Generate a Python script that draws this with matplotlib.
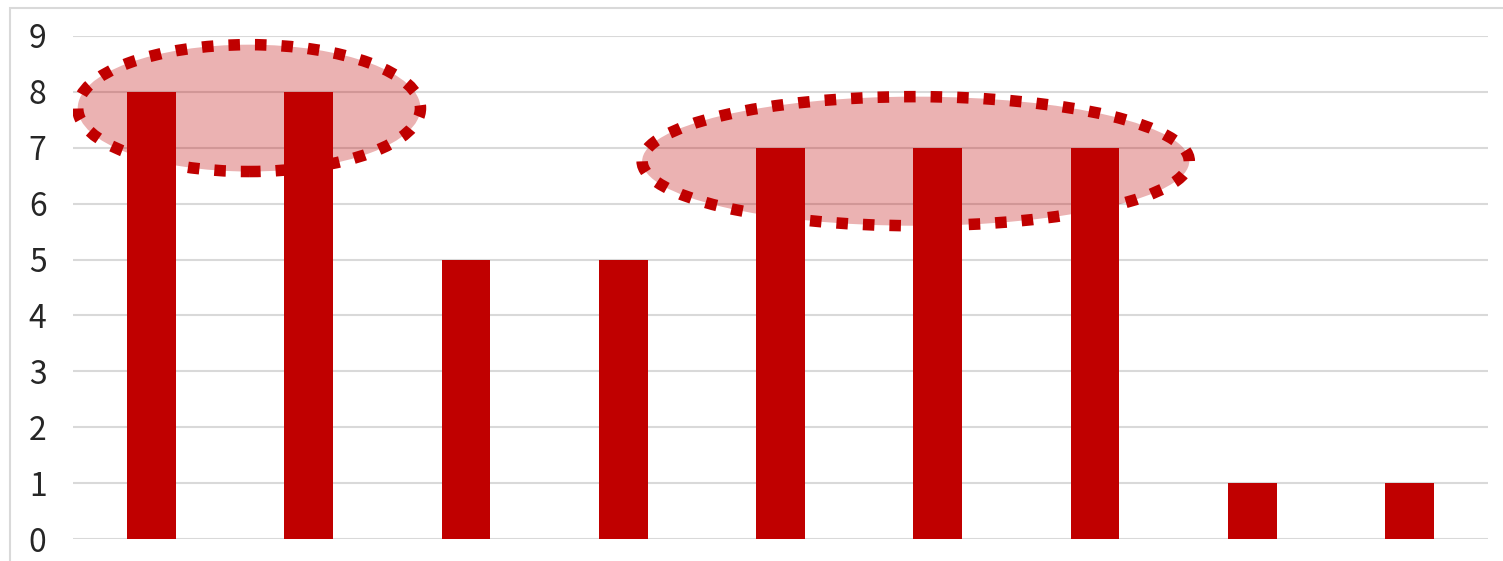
import matplotlib
matplotlib.use("Agg")
import matplotlib.pyplot as plt
from matplotlib.patches import Ellipse, Rectangle

plt.rcParams['font.family'] = ['Noto Sans CJK JP', 'DejaVu Sans']

# data
categories = ["A", "B", "C", "D", "E", "F", "G", "H", "I"]
values = [8, 8, 5, 5, 7, 7, 7, 1, 1]
y_ticks = [0, 1, 2, 3, 4, 5, 6, 7, 8, 9]

# highlighted groups: (centre x, centre y, width, height) in data units
highlights = [
    (0.62, 7.71, 2.18, 2.27),
    (4.86, 6.76, 3.48, 2.31),
]

bar_color = "#C00000"
grid_color = "#D9D9D9"

fig = plt.figure(figsize=(15.03, 5.61), dpi=100)
ax = fig.add_axes([73 / 1503, 22 / 561, (1488 - 73) / 1503, (539 - 36) / 561])

x = list(range(len(categories)))
ax.bar(x, values, width=0.31, color=bar_color, zorder=3)

for cx, cy, w, h in highlights:
    ax.add_patch(Ellipse((cx, cy), w, h, facecolor=bar_color, alpha=0.3,
                         edgecolor="none", zorder=2))
    ax.add_patch(Ellipse((cx, cy), w, h, facecolor="none", edgecolor=bar_color,
                         linewidth=8.3, linestyle=(0, (1, 1.3)), zorder=2.5))

ax.set_xlim(-0.5, len(categories) - 0.5)
ax.set_ylim(0, 9)
ax.set_yticks(y_ticks)
ax.set_xticks([])
ax.tick_params(axis="y", length=0, pad=19, labelsize=23, labelcolor="#262626")
ax.yaxis.grid(True, color=grid_color, linewidth=1.5, zorder=0)
ax.set_axisbelow(True)
for s in ax.spines.values():
    s.set_visible(False)

# outer chart frame
fig.patches.append(Rectangle((10 / 1503, -0.1), 1.1, 1.1 - 8 / 561,
                             transform=fig.transFigure, fill=False,
                             edgecolor=grid_color, linewidth=1.5, zorder=0))

fig.savefig("out.png", dpi=100)
